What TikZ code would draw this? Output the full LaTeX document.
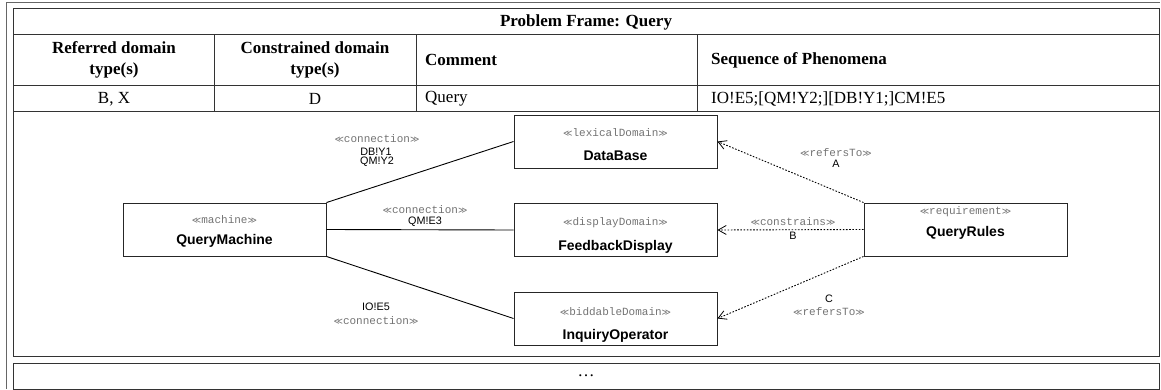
\documentclass[tikz,border=0pt]{standalone}
\usepackage{fontspec}
\setmainfont{Liberation Serif}
\setsansfont{Liberation Sans}
\setmonofont{Liberation Mono}
\newfontfamily\symfont{DejaVu Sans}
\usetikzlibrary{arrows.meta}
\newcommand\stt[1]{{\symfont\fontsize{9}{11}\selectfont ≪}#1{\symfont\fontsize{9}{11}\selectfont ≫}}
\begin{document}
\begin{tikzpicture}[x=1pt,y=-1pt,
  tbl/.style={draw=black!80, line width=1pt},
  outer/.style={draw=black!60, line width=1pt},
  hdr/.style={font=\fontsize{17}{21}\selectfont\bfseries, align=center, inner sep=0pt},
  cell/.style={font=\fontsize{17}{21}\selectfont, inner sep=0pt},
  pbox/.style={draw=black!85, line width=0.9pt, minimum width=203pt, minimum height=53pt, inner sep=0pt},
  stereo/.style={font=\fontsize{11}{13}\selectfont\ttfamily, text=black!55, inner sep=0pt},
  pname/.style={font=\fontsize{14}{16}\selectfont\sffamily\bfseries, inner sep=0pt},
  lbl/.style={font=\fontsize{10.8}{11}\selectfont\sffamily, inner sep=0pt},
  conn/.style={draw=black, line width=0.9pt},
  dep/.style={draw=black, line width=0.9pt, dash pattern=on 1.6pt off 1.6pt, -{Straight Barb[length=8pt,width=9pt,line width=0.8pt]}}
]
\useasboundingbox (0,0) rectangle (1161,390);
% outer frame
\draw[outer] (6,389) -- (6,3) -- (1160,3);
% table
\draw[tbl] (13,9) rectangle (1159,356);
\draw[tbl] (13,34.5) -- (1159,34.5);
\draw[tbl] (13,86) -- (1159,86);
\draw[tbl] (13,112) -- (1159,112);
\draw[tbl] (214,34.5) -- (214,112);
\draw[tbl] (416,34.5) -- (416,112);
\draw[tbl] (697,34.5) -- (697,112);
\draw[tbl] (13,363) rectangle (1159,389);

\node[hdr] (title) at (586,22) {Problem Frame: Query};
\node[hdr] (h1) at (114,60) {Referred domain\\type(s)};
\node[hdr] (h2) at (315,60) {Constrained domain\\type(s)};
\node[hdr, anchor=west] (h3) at (425,60) {Comment};
\node[hdr, anchor=west] (h4) at (711,60) {Sequence of Phenomena};
\node[cell] (d1) at (114,99) {B, X};
\node[cell] (d2) at (315,99) {D};
\node[cell, anchor=west] (d3) at (425,99) {Query};
\node[cell, anchor=west] (d4) at (711,99) {IO!E5;[QM!Y2;][DB!Y1;]CM!E5};
\node[cell] (dots) at (586,376) {\ldots};

% boxes
\node[pbox] (qm) at (224.5,229.5) {};
\node[stereo] (qms) at (224.5,220) {\stt{machine}};
\node[pname] (qmn) at (224.5,240.5) {QueryMachine};

\node[pbox] (db) at (615.5,141.5) {};
\node[stereo] (dbs) at (615.5,133) {\stt{lexicalDomain}};
\node[pbox] (fd) at (615.5,230) {};
\node[pbox] (io) at (615.5,318.5) {};
\node[pbox] (qr) at (965.5,229.5) {};

\node[pname] (dbn) at (615.5,155.5) {DataBase};
\node[stereo] (fds) at (615.5,223) {\stt{displayDomain}};
\node[pname] (fdn) at (615.5,246.5) {FeedbackDisplay};
\node[stereo] (ios) at (615.5,312) {\stt{biddableDomain}};
\node[pname] (ion) at (615.5,335.5) {InquiryOperator};
\node[stereo] (qrs) at (965.5,212) {\stt{requirement}};
\node[pname] (qrn) at (965.5,233) {QueryRules};

% connections
\draw[conn] (qm.north east) -- (db.west);
\draw[conn] (qm.east) -- (fd.west);
\draw[conn] (qm.south east) -- (io.west);
\draw[dep] (qr.north west) -- (db.east);
\draw[dep] (qr.west) -- (fd.east);
\draw[dep] (qr.south west) -- (io.east);

% labels
\node[stereo] (l1s) at (377,139) {\stt{connection}};
\node[lbl] (l1a) at (376,152) {DB!Y1};
\node[lbl] (l1b) at (377,162) {QM!Y2};
\node[stereo] (l2s) at (425,210) {\stt{connection}};
\node[lbl] (l2a) at (425,222) {QM!E3};
\node[lbl] (l3a) at (376,307) {IO!E5};
\node[stereo] (l3s) at (376,321) {\stt{connection}};
\node[stereo] (l4s) at (836,153) {\stt{refersTo}};
\node[lbl] (l4a) at (836,164) {A};
\node[stereo] (l5s) at (793,222) {\stt{constrains}};
\node[lbl] (l5a) at (793,236) {B};
\node[lbl] (l6a) at (829,299) {C};
\node[stereo] (l6s) at (829,312) {\stt{refersTo}};
\end{tikzpicture}
\end{document}
